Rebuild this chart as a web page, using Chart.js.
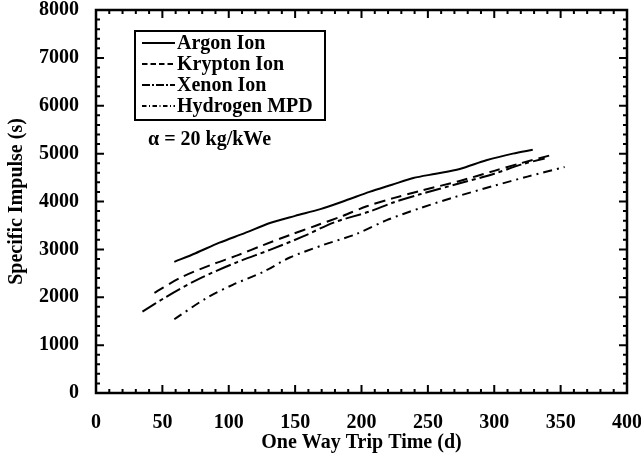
<!DOCTYPE html>
<html>
<head>
<meta charset="utf-8">
<script src="https://cdn.jsdelivr.net/npm/chart.js@4"></script>
<style>
  html, body { margin: 0; padding: 0; background: #fff; }
  #wrap { width: 641px; height: 461px; position: relative; }
</style>
</head>
<body>
<div id="wrap"><canvas id="c" width="641" height="461"></canvas></div>
<script>
// Trip time (days) and specific impulse (s) for each propulsion option
const argonTime = [59, 75, 93, 112, 131, 150, 169, 188, 206, 223, 239, 256, 274, 294, 314, 329];
const argonIsp  = [2740, 2920, 3140, 3340, 3550, 3700, 3840, 4020, 4200, 4350, 4490, 4580, 4680, 4860, 5000, 5080];

const kryptonTime = [44, 63, 86, 107, 126, 146, 166, 186, 204, 224, 244, 274, 300, 320, 343];
const kryptonIsp  = [2090, 2400, 2670, 2880, 3090, 3300, 3500, 3700, 3900, 4070, 4220, 4430, 4640, 4800, 4970];

const xenonTime = [35, 53, 78, 106, 131, 156, 179, 206, 224, 244, 274, 300, 320, 338];
const xenonIsp  = [1700, 2010, 2390, 2730, 2990, 3270, 3560, 3790, 3980, 4150, 4380, 4580, 4770, 4900];

const hydrogenTime = [59, 83, 103, 126, 146, 171, 196, 219, 244, 270, 300, 325, 353];
const hydrogenIsp  = [1540, 1980, 2260, 2530, 2830, 3090, 3320, 3610, 3860, 4090, 4330, 4520, 4720];

const seriesNames = ['Argon Ion', 'Krypton Ion', 'Xenon Ion', 'Hydrogen MPD'];
const seriesDash  = [[], [11, 6], [16, 4, 4, 4], [9, 5, 2, 5]];

const xTicks = [0, 50, 100, 150, 200, 250, 300, 350, 400];
const yTicks = [0, 1000, 2000, 3000, 4000, 5000, 6000, 7000, 8000];
const alphaNote = 'α = 20 kg/kWe';

const FONT = "'Liberation Serif', 'Times New Roman', serif";

function toPoints(xs, ys) { return xs.map((x, i) => ({ x: x, y: ys[i] })); }

const datasets = [
  [argonTime, argonIsp], [kryptonTime, kryptonIsp],
  [xenonTime, xenonIsp], [hydrogenTime, hydrogenIsp]
].map((s, i) => ({
  label: seriesNames[i],
  data: toPoints(s[0], s[1]),
  showLine: true,
  borderColor: '#000',
  backgroundColor: '#000',
  borderWidth: 2,
  borderDash: seriesDash[i],
  pointRadius: 0,
  tension: 0.3,
  fill: false
}));

// Boxed frame with inward major/minor ticks on all four sides
const framePlugin = {
  id: 'frame',
  afterDatasetsDraw(chart) {
    const { ctx, chartArea: a, scales } = chart;
    const xs = scales.x, ys = scales.y;
    ctx.save();
    ctx.strokeStyle = '#000';
    ctx.lineWidth = 2.5;
    ctx.strokeRect(a.left, a.top, a.right - a.left, a.bottom - a.top);
    ctx.lineWidth = 2;
    ctx.beginPath();
    for (let v = 0; v <= 400; v += 10) {
      const px = xs.getPixelForValue(v);
      const len = v % 50 === 0 ? 8 : 4;
      ctx.moveTo(px, a.bottom); ctx.lineTo(px, a.bottom - len);
      ctx.moveTo(px, a.top); ctx.lineTo(px, a.top + len);
    }
    for (let v = 0; v <= 8000; v += 200) {
      const py = ys.getPixelForValue(v);
      const len = v % 1000 === 0 ? 8 : 4;
      ctx.moveTo(a.left, py); ctx.lineTo(a.left + len, py);
      ctx.moveTo(a.right, py); ctx.lineTo(a.right - len, py);
    }
    ctx.stroke();
    ctx.restore();
  }
};

// Legend box inside the plot plus the alpha note
const legendPlugin = {
  id: 'boxLegend',
  afterDraw(chart) {
    const { ctx } = chart;
    ctx.save();
    ctx.strokeStyle = '#000';
    ctx.lineWidth = 2;
    ctx.strokeRect(135, 31, 190, 89);
    ctx.font = 'bold 20px ' + FONT;
    ctx.fillStyle = '#000';
    ctx.textBaseline = 'middle';
    ctx.textAlign = 'left';
    const rows = [43, 64, 85, 106];
    chart.data.datasets.forEach((ds, i) => {
      const y = rows[i];
      ctx.beginPath();
      ctx.lineWidth = 2;
      ctx.setLineDash(ds.borderDash.map(d => d * 0.5));
      ctx.moveTo(142, y);
      ctx.lineTo(175, y);
      ctx.stroke();
      ctx.setLineDash([]);
      ctx.fillText(ds.label, 177, y + 1);
    });
    ctx.fillText(alphaNote, 148, 140);
    ctx.restore();
  }
};

const tickFont = { family: FONT, size: 20, weight: 'bold' };
const titleFont = { family: FONT, size: 20, weight: 'bold' };

new Chart(document.getElementById('c'), {
  type: 'scatter',
  data: { datasets },
  plugins: [framePlugin, legendPlugin],
  options: {
    responsive: false,
    animation: false,
    events: [],
    layout: { padding: { left: 5, right: 14, top: 10, bottom: 6 } },
    plugins: { legend: { display: false }, tooltip: { enabled: false } },
    scales: {
      x: {
        type: 'linear', min: 0, max: 400,
        afterBuildTicks(s) { s.ticks = xTicks.map(v => ({ value: v })); },
        ticks: { font: tickFont, color: '#000', padding: 18, maxRotation: 0, autoSkip: false,
                 callback: v => String(v) },
        grid: { display: false, drawTicks: false },
        border: { display: false },
        title: { display: true, text: 'One Way Trip Time (d)', color: '#000',
                 font: titleFont, padding: 0 },
        afterFit(s) { s.height = 62; s.paddingLeft = 0; s.paddingRight = 0; }
      },
      y: {
        type: 'linear', min: 0, max: 8000,
        afterBuildTicks(s) { s.ticks = yTicks.map(v => ({ value: v })); },
        ticks: { font: tickFont, color: '#000', padding: 17, autoSkip: false,
                 callback: v => String(v) },
        grid: { display: false, drawTicks: false },
        border: { display: false },
        title: { display: true, text: 'Specific Impulse (s)', color: '#000',
                 font: titleFont, padding: 0 },
        afterFit(s) { s.width = 91; s.paddingTop = 0; s.paddingBottom = 0; }
      }
    }
  }
});
</script>
</body>
</html>
